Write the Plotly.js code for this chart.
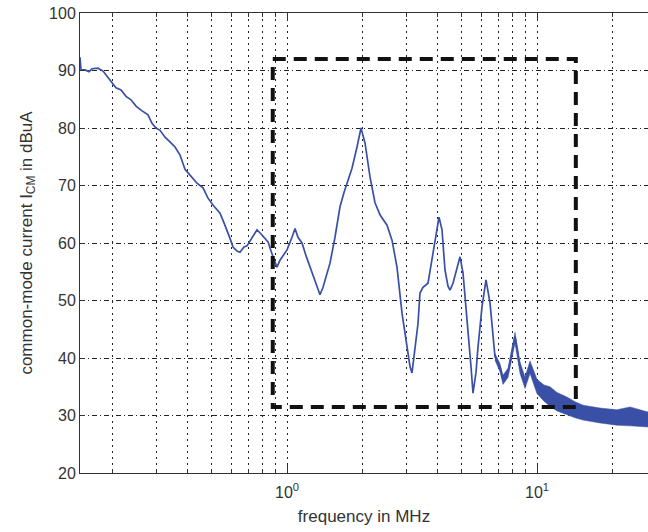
<!DOCTYPE html>
<html>
<head>
<meta charset="utf-8">
<script src="https://cdn.plot.ly/plotly-3.0.1.min.js"></script>
<style>html,body{margin:0;padding:0;background:#fff;}#chart{width:648px;height:532px;}</style>
</head>
<body>
<div id="chart"></div>
<script>
// measured common-mode current spectrum (frequency in MHz, level in dBuA)
const freqMHz = [0.1486,0.1500,0.1556,0.1614,0.1660,0.1754,0.1837,0.1977,0.2070,0.2168,0.2270,0.2377,0.2489,0.2606,0.2780,0.2884,0.2992,0.3105,0.3251,0.3404,0.3565,0.3733,0.3908,0.4093,0.4365,0.4613,0.4831,0.5058,0.5395,0.5598,0.5754,0.5916,0.6081,0.6310,0.6486,0.6730,0.6918,0.7244,0.7586,0.7943,0.8395,0.8790,0.9120,0.9376,1.0,1.0471,1.0765,1.1066,1.1482,1.1912,1.2359,1.2942,1.3552,1.3932,1.4454,1.4859,1.5560,1.6293,1.6904,1.7378,1.8197,1.9055,1.9770,2.0512,2.1478,2.2491,2.3550,2.5119,2.6303,2.7542,2.8840,3.0200,3.1046,3.1623,3.2509,3.3420,3.4041,3.4995,3.6644,3.8371,3.9446,4.0551,4.1687,4.2855,4.4055,4.4875,4.6132,4.7863,4.9204,5.0582,5.2000,5.2966,5.4450,5.5463,5.7016,5.8076,6.0256,6.2517,6.4863,6.7920,7.1121,7.3114,7.6560,8.1658,8.5507,8.9536,9.3756,10.0,10.666,11.272,12.023,13.183,14.191,16.444,19.588,22.284,25.823,27.797];
const currentDbuA = [92.3,90.1,90.1,89.8,90.3,90.4,89.9,88.0,87.0,86.6,85.5,84.9,83.8,83.1,82.3,80.8,80.0,79.6,78.4,77.6,76.7,75.3,72.8,71.8,70.4,69.6,67.8,66.6,65.2,63.5,62.3,60.8,59.3,58.6,58.4,59.3,59.5,60.9,62.3,61.4,60.2,57.6,55.8,57.0,58.8,61.0,62.5,61.0,60.0,57.8,55.8,53.4,51.0,52.3,54.5,56.5,61.0,66.3,68.8,70.4,73.0,76.7,80.0,77.4,71.5,67.0,64.9,63.1,60.5,55.8,47.8,42.0,38.5,37.4,42.0,46.0,51.3,52.3,53.0,58.3,61.5,64.5,62.3,55.3,52.5,51.8,53.0,55.5,57.6,54.8,49.0,44.9,38.5,33.9,37.5,41.9,48.9,53.6,49.6,40.2,38.4,36.2,37.4,43.7,38.4,35.7,38.5,35.0,33.8,33.2,32.4,31.6,31.0,30.1,29.8,29.6,29.4,29.3];

// envelope of the noisy high-frequency part
const noiseFreqMHz = [6.792,7.112,7.311,7.656,8.166,8.551,8.954,9.376,10.0,10.666,11.272,12.023,13.183,14.191,15.28,17.86,20.89,23.55,27.80];
const noiseUpper   = [40.8,39.0,37.0,38.2,44.5,39.3,36.7,39.5,36.3,35.3,35.0,34.0,33.2,32.4,31.8,31.3,31.0,31.5,30.6];
const noiseLower   = [39.6,37.6,35.4,36.6,42.6,37.3,34.7,37.3,33.8,32.5,31.6,30.8,30.1,29.6,29.2,28.7,28.3,28.2,28.0];

// dashed frequency-range box
const boxFreqMHz = [0.877,14.3,14.3,0.877,0.877];
const boxDbuA    = [92.0,92.0,31.5,31.5,92.0];

// axis ticks
const xMajorTicks = [1,10];
const xMajorLabels = ['10<sup>0</sup>','10<sup>1</sup>'];
const xMinorTicks = [0.2,0.3,0.4,0.5,0.6,0.7,0.8,0.9,2,3,4,5,6,7,8,9,20];
const yTicks = [20,30,40,50,60,70,80,90,100];

const blue = '#3a50a6';
const traces = [
  {
    x: noiseFreqMHz.concat(noiseFreqMHz.slice().reverse()),
    y: noiseUpper.concat(noiseLower.slice().reverse()),
    type: 'scatter', mode: 'lines', fill: 'toself',
    fillcolor: blue, line: {width: 0.5, color: blue},
    hoverinfo: 'skip', showlegend: false
  },
  {
    x: freqMHz, y: currentDbuA, type: 'scatter', mode: 'lines',
    line: {color: blue, width: 1.7}, showlegend: false
  },
  {
    x: boxFreqMHz, y: boxDbuA, type: 'scatter', mode: 'lines',
    line: {color: '#111', width: 4, dash: '13px,8px'}, showlegend: false
  }
];

const gridCol = '#222';
const layout = {
  width: 648, height: 532,
  margin: {l: 80, r: 0, t: 13, b: 59},
  paper_bgcolor: '#fff', plot_bgcolor: '#fff',
  font: {family: 'Liberation Sans, Arial, sans-serif', color: '#333', size: 16},
  showlegend: false,
  xaxis: {
    type: 'log', range: [-0.828, 1.444],
    tickmode: 'array', tickvals: xMajorTicks, ticktext: xMajorLabels,
    ticks: 'inside', ticklen: 8, tickcolor: '#333', ticklabelstandoff: 5,
    showline: true, linecolor: '#333', linewidth: 1, mirror: 'ticks',
    showgrid: true, gridcolor: gridCol, gridwidth: 1, griddash: '2px,4px',
    zeroline: false, automargin: false,
    tickfont: {size: 16, color: '#333'},
    minor: {tickmode: 'array', tickvals: xMinorTicks, ticks: 'inside', ticklen: 4, tickcolor: '#333',
            showgrid: true, gridcolor: gridCol, gridwidth: 1, griddash: '2px,4px'},
    title: {text: 'frequency in MHz', font: {size: 17, color: '#333'}, standoff: 9}
  },
  yaxis: {
    range: [20, 100], tickmode: 'array', tickvals: yTicks,
    ticks: 'inside', ticklen: 5, tickcolor: '#333',
    showline: true, linecolor: '#333', linewidth: 1, mirror: false,
    showgrid: true, gridcolor: gridCol, gridwidth: 1, griddash: '5px,3px,1px,3px',
    zeroline: false, automargin: false,
    tickfont: {size: 16, color: '#333'},
    title: {text: 'common-mode current I<sub>CM</sub> in dBuA', font: {size: 17, color: '#333'}, standoff: 12}
  }
};

Plotly.newPlot('chart', traces, layout, {displayModeBar: false, staticPlot: true});
</script>
</body>
</html>
